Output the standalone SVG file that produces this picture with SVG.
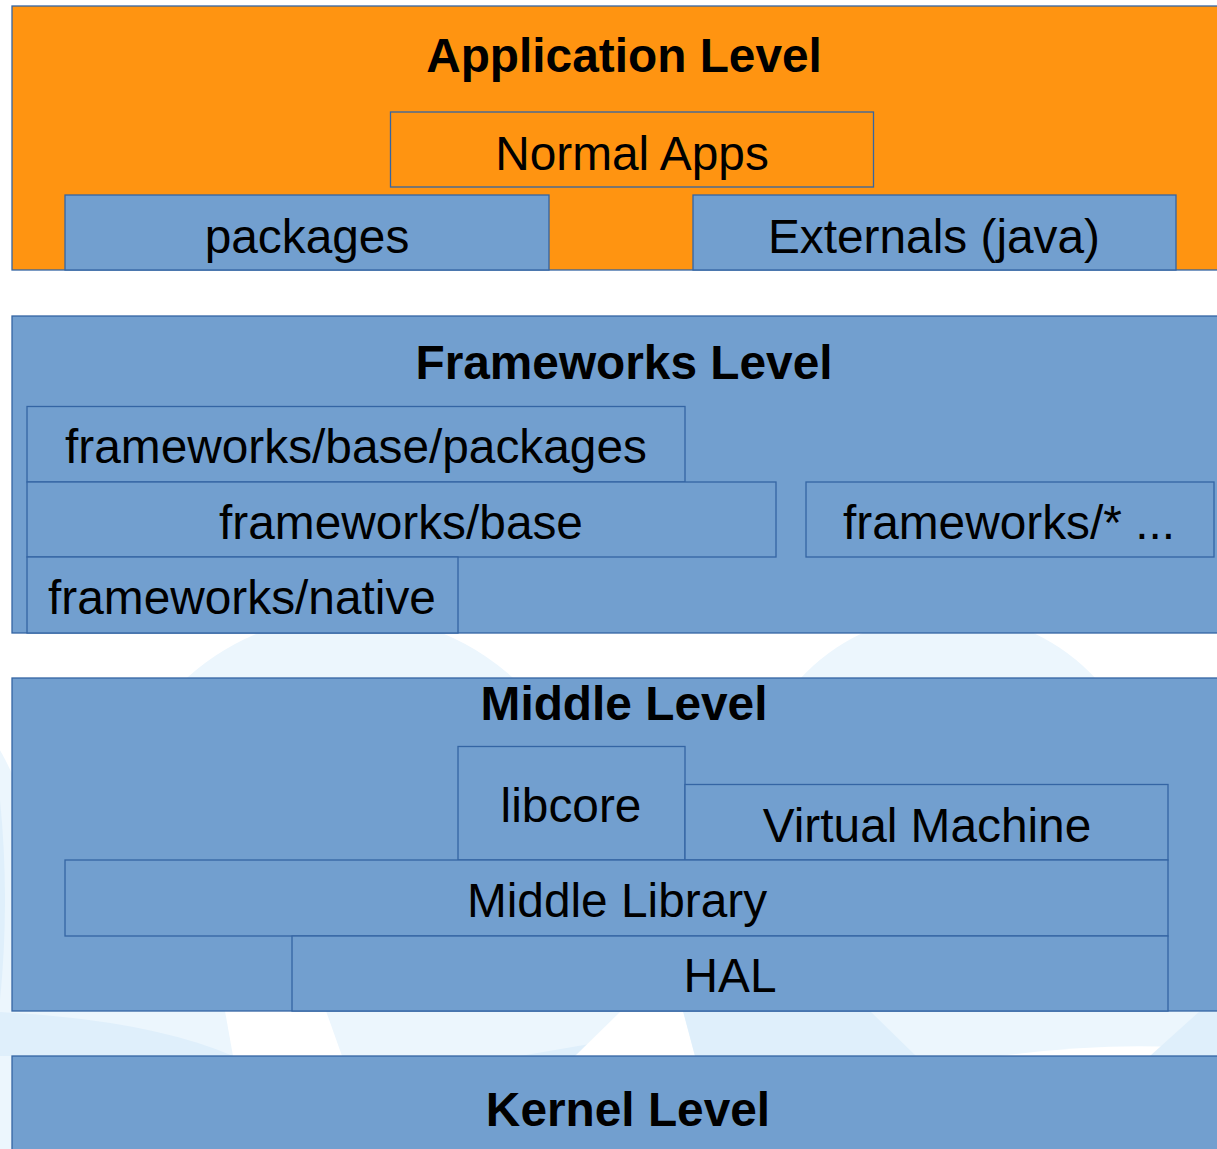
<svg xmlns="http://www.w3.org/2000/svg" width="1217" height="1149" viewBox="0 0 1217 1149">
<style>
  .lvl-o { fill: #FF9411; stroke: #3465A4; stroke-width: 1.3; }
  .lvl-b { fill: #729FCF; stroke: #3465A4; stroke-width: 1.3; }
  .title { font-family: "Liberation Sans", Arial, sans-serif; font-weight: bold; font-size: 47.8px; fill: #000; text-anchor: middle; }
  .lbl { font-family: "Liberation Sans", Arial, sans-serif; font-size: 47.8px; fill: #000; text-anchor: middle; }
</style>
<rect x="0" y="0" width="1217" height="1149" fill="#ffffff"/>
<g id="background">
  <circle cx="350" cy="858" r="243" fill="#ECF6FD"/>
  <circle cx="948" cy="815" r="201" fill="#ECF6FD"/>
  <circle cx="-260" cy="900" r="300" fill="#ECF6FD"/>
  <rect x="0" y="1011" width="1217" height="138" fill="#ECF6FD"/>
  <path d="M0,1012 Q150,1020 233,1056 L0,1056 Z" fill="#DFEFFB"/>
  <path d="M225,1011 L326,1011 L342,1056 L233,1056 Z" fill="#ffffff"/>
  <path d="M613,1040 L520,1056 L575,1056 Z" fill="#DFEFFB"/>
  <path d="M621,1011 L683,1011 L695,1056 L575,1056 Z" fill="#ffffff"/>
  <path d="M683,1011 L870,1011 L916,1056 L695,1056 Z" fill="#DFEFFB"/>
  <path d="M1000,1056 Q1120,1040 1217,1050 L1217,1056 Z" fill="#ffffff"/>
  <path d="M1150,1056 L1200,1011 L1217,1011 L1217,1056 Z" fill="#DFEFFB"/>
  <path d="M0,800 Q10,900 0,1000 Z" fill="#DFEFFB"/>
</g>
<g id="application-level">
  <rect class="lvl-o" x="12" y="6" width="1210" height="264"/>
  <text class="title" x="624" y="72">Application Level</text>
</g>
<g id="normal-apps">
  <rect class="lvl-o" x="390.5" y="112" width="483" height="75"/>
  <text class="lbl" x="632" y="170">Normal Apps</text>
</g>
<g id="packages">
  <rect class="lvl-b" x="65" y="195" width="484" height="75"/>
  <text class="lbl" x="307" y="253">packages</text>
</g>
<g id="externals">
  <rect class="lvl-b" x="693" y="195" width="483" height="75"/>
  <text class="lbl" x="934" y="253">Externals (java)</text>
</g>
<g id="frameworks-level">
  <rect class="lvl-b" x="12" y="316" width="1210" height="317"/>
  <text class="title" x="624" y="379">Frameworks Level</text>
</g>
<g id="fw-base-packages">
  <rect class="lvl-b" x="27" y="406.5" width="658" height="75.5"/>
  <text class="lbl" x="356" y="463">frameworks/base/packages</text>
</g>
<g id="fw-base">
  <rect class="lvl-b" x="27" y="482" width="749" height="75"/>
  <text class="lbl" x="401" y="539">frameworks/base</text>
</g>
<g id="fw-star">
  <rect class="lvl-b" x="806" y="482" width="408" height="75"/>
  <text class="lbl" x="1009" y="539">frameworks/* ...</text>
</g>
<g id="fw-native">
  <rect class="lvl-b" x="27" y="557" width="431" height="76"/>
  <text class="lbl" x="242" y="614">frameworks/native</text>
</g>
<g id="middle-level">
  <rect class="lvl-b" x="12" y="678" width="1210" height="333"/>
  <text class="title" x="624" y="720">Middle Level</text>
</g>
<g id="libcore">
  <rect class="lvl-b" x="458" y="746.5" width="227" height="113.5"/>
  <text class="lbl" x="571" y="822">libcore</text>
</g>
<g id="virtual-machine">
  <rect class="lvl-b" x="685" y="784.5" width="483" height="75.5"/>
  <text class="lbl" x="927" y="842">Virtual Machine</text>
</g>
<g id="middle-library">
  <rect class="lvl-b" x="65" y="860" width="1103" height="76"/>
  <text class="lbl" x="617" y="917">Middle Library</text>
</g>
<g id="hal">
  <rect class="lvl-b" x="292" y="936" width="876" height="75"/>
  <text class="lbl" x="730" y="992">HAL</text>
</g>
<g id="kernel-level">
  <rect class="lvl-b" x="12" y="1056" width="1210" height="100"/>
  <text class="title" x="628" y="1126">Kernel Level</text>
</g>
<g id="connectors"></g>
</svg>
